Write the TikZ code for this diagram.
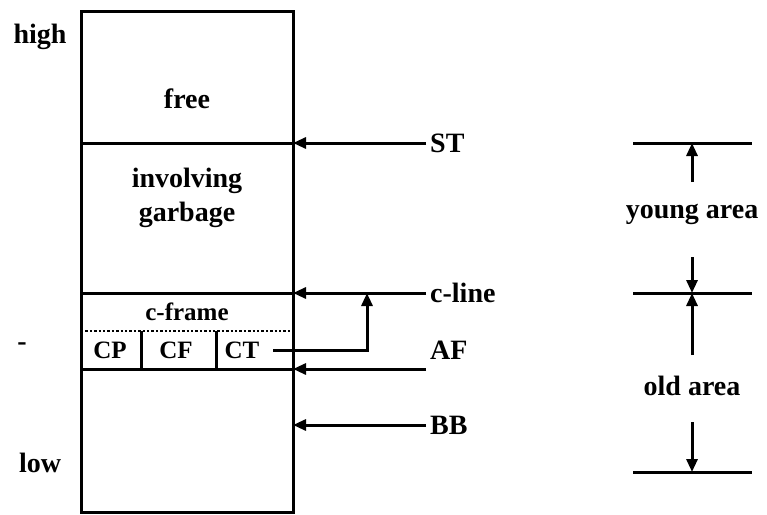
\documentclass[tikz,border=0pt]{standalone}
\usepackage{fontspec}
\setmainfont{Liberation Serif}
\usetikzlibrary{arrows.meta}
\begin{document}
\begin{tikzpicture}[x=1pt,y=-1pt,
  lbl/.style={font=\fontsize{28}{30}\selectfont\bfseries, inner sep=0pt},
  slbl/.style={font=\fontsize{25}{27}\selectfont\bfseries, inner sep=0pt},
  ln/.style={line width=3pt},
  arr/.style={line width=3pt, -{Triangle[length=13pt,width=11pt]}}]
\useasboundingbox (0,0) rectangle (767,514);
% memory box
\coordinate (TL) at (81,11);
\coordinate (BR) at (293,512);
\draw[ln] (TL) rectangle (BR);
\coordinate (st) at (293,143);
\coordinate (cl) at (293,293);
\coordinate (af) at (293,369);
\coordinate (bb) at (293,425);
\draw[ln] (81,143) -- (st);
\draw[ln] (81,293) -- (cl);
\draw[line width=2.4pt, dotted] (81,331) -- (293,331);
\draw[ln] (81,369) -- (af);
\draw[ln] (141,331) -- (141,369);
\draw[ln] (216,331) -- (216,369);
% texts in box
\node[lbl] (high) at (40,37) {high};
\node[lbl] (low) at (40,463) {low};
\node[lbl] (free) at (187,99) {free};
\node[lbl] (inv) at (187,181) {involving};
\node[lbl] (garb) at (187,215) {garbage};
\node[slbl] (cframe) at (187,312) {c-frame};
\node[slbl] (cp) at (110,350) {CP};
\node[slbl] (cf) at (176,350) {CF};
\node[slbl] (ct) at (242,350) {CT};
\node[lbl] (dash) at (22,347) {-};
% pointer labels
\node[lbl, anchor=west] (ST) at (430,143) {ST};
\node[lbl, anchor=west] (CL) at (430,293) {c-line};
\node[lbl, anchor=west] (AF) at (430,350) {AF};
\node[lbl, anchor=west] (BB) at (430,425) {BB};
\draw[arr] (ST.west) ++(-4,0) -- (st);
\draw[arr] (CL.west) ++(-4,0) -- (cl);
\draw[arr] (430-4,369) -- (af);
\draw[arr] (BB.west) ++(-4,0) -- (bb);
\coordinate (ctend) at (273,350);
\coordinate (ctup) at (367,293);
\draw[arr] (ctend) -- (367,350) -- (ctup);
% right side
\coordinate (r1) at (692,143);
\coordinate (r2) at (692,293);
\coordinate (r3) at (692,472);
\draw[ln] (633,143) -- (752,143);
\draw[ln] (633,293) -- (752,293);
\draw[ln] (633,472) -- (752,472);
\node[lbl] (young) at (692,214) {young area};
\node[lbl] (old) at (692,386) {old area};
\draw[arr] (692,182) -- (r1);
\draw[arr] (692,257) -- (r2);
\draw[arr] (692,355) -- (r2);
\draw[arr] (692,422) -- (r3);
\end{tikzpicture}
\end{document}
